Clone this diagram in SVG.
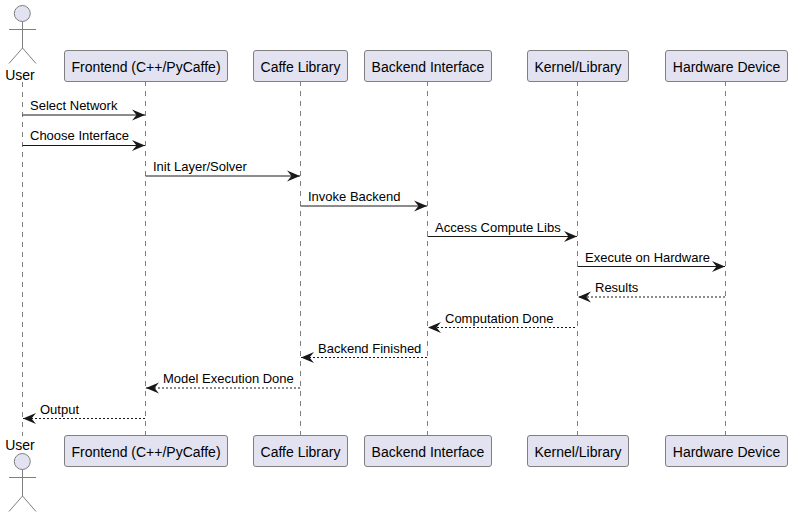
<svg xmlns="http://www.w3.org/2000/svg" width="792" height="517" viewBox="0 0 792 517">
<style>
text{font-family:"Liberation Sans",Arial,sans-serif;fill:#000}
.n{font-size:14px;text-anchor:middle}
.m{font-size:13px}
.box{fill:#E2E2F0;stroke:#7f7f7f;stroke-width:1}
.a{fill:#E2E2F0;stroke:#7f7f7f;stroke-width:1}
.al{fill:none;stroke:#7f7f7f;stroke-width:1}
.life{stroke:#7f7f7f;stroke-width:1;stroke-dasharray:5 5;fill:none}
.s{stroke:#181818;stroke-width:1;fill:none}
.d{stroke:#181818;stroke-width:1;fill:none;stroke-dasharray:2 2}
</style>
<defs>
<marker id="h" markerUnits="userSpaceOnUse" markerWidth="14" markerHeight="12" refX="13" refY="6" orient="auto-start-reverse" viewBox="0 0 14 12"><path d="M0 0.500L13 6L0 11.500L4.500 6Z" fill="#181818"/></marker>
<g id="actor"><circle cx="22.300" cy="13.500" r="8" class="a"/><path class="al" d="M22.500 21.500V48M9 29.500H36M22.500 48L9 63.500M22.500 48L36 63.500"/></g>
</defs>
<g id="lifelines">
<path class="life" d="M22.500 82V436M145.500 81V436M300.500 81V436M427.500 81V436M577.500 81V436M725.500 81V436"/>
</g>
<g id="connectors">
<path class="s" marker-end="url(#h)" d="M22.500 115H145"/>
<path class="s" marker-end="url(#h)" d="M22.500 145.500H145"/>
<path class="s" marker-end="url(#h)" d="M145.500 176H300"/>
<path class="s" marker-end="url(#h)" d="M300.500 206H427"/>
<path class="s" marker-end="url(#h)" d="M427.500 236.500H577"/>
<path class="s" marker-end="url(#h)" d="M577.500 266.500H725"/>
<path class="d" marker-end="url(#h)" d="M725 297H578"/>
<path class="d" marker-end="url(#h)" d="M575 327.500H428"/>
<path class="d" marker-end="url(#h)" d="M427 357.500H301"/>
<path class="d" marker-end="url(#h)" d="M300 388H146"/>
<path class="d" marker-end="url(#h)" d="M145 418.500H23"/>
<text class="m" x="30" y="110">Select Network</text>
<text class="m" x="30" y="140">Choose Interface</text>
<text class="m" x="153" y="171">Init Layer/Solver</text>
<text class="m" x="308" y="201">Invoke Backend</text>
<text class="m" x="435" y="232">Access Compute Libs</text>
<text class="m" x="585" y="262">Execute on Hardware</text>
<text class="m" x="595" y="292">Results</text>
<text class="m" x="445" y="323">Computation Done</text>
<text class="m" x="318" y="353">Backend Finished</text>
<text class="m" x="163" y="383">Model Execution Done</text>
<text class="m" x="40" y="414">Output</text>
</g>
<g id="user-top"><use href="#actor"/><text class="n" x="20" y="80">User</text></g>
<g id="frontend-top"><rect class="box" x="64.500" y="50.500" width="163" height="31" rx="2.500"/><text class="n" x="146" y="72">Frontend (C++/PyCaffe)</text></g>
<g id="caffe-top"><rect class="box" x="253.500" y="50.500" width="94" height="31" rx="2.500"/><text class="n" x="300.500" y="72">Caffe Library</text></g>
<g id="backend-top"><rect class="box" x="364.500" y="50.500" width="127" height="31" rx="2.500"/><text class="n" x="428" y="72">Backend Interface</text></g>
<g id="kernel-top"><rect class="box" x="527.500" y="50.500" width="101" height="31" rx="2.500"/><text class="n" x="578" y="72">Kernel/Library</text></g>
<g id="hardware-top"><rect class="box" x="665.500" y="50.500" width="122" height="31" rx="2.500"/><text class="n" x="726.500" y="72">Hardware Device</text></g>
<g id="user-bottom"><use href="#actor" y="448"/><text class="n" x="20" y="450">User</text></g>
<g id="frontend-bottom"><rect class="box" x="64.500" y="435.500" width="163" height="31" rx="2.500"/><text class="n" x="146" y="457">Frontend (C++/PyCaffe)</text></g>
<g id="caffe-bottom"><rect class="box" x="253.500" y="435.500" width="94" height="31" rx="2.500"/><text class="n" x="300.500" y="457">Caffe Library</text></g>
<g id="backend-bottom"><rect class="box" x="364.500" y="435.500" width="127" height="31" rx="2.500"/><text class="n" x="428" y="457">Backend Interface</text></g>
<g id="kernel-bottom"><rect class="box" x="527.500" y="435.500" width="101" height="31" rx="2.500"/><text class="n" x="578" y="457">Kernel/Library</text></g>
<g id="hardware-bottom"><rect class="box" x="665.500" y="435.500" width="122" height="31" rx="2.500"/><text class="n" x="726.500" y="457">Hardware Device</text></g>
</svg>
